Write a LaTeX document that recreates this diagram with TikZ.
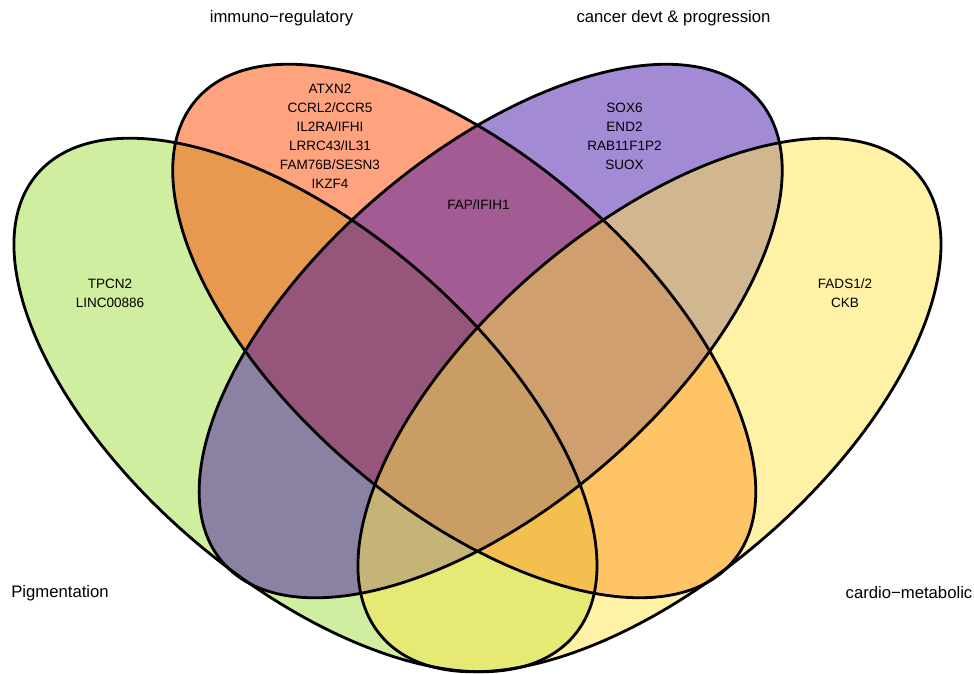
\documentclass[tikz,border=0pt]{standalone}
\usepackage{fontspec}
\setmainfont{Liberation Sans}
\usetikzlibrary{positioning}
\definecolor{pigment}{HTML}{A1DD3F}
\definecolor{immuno}{HTML}{FF4700}
\definecolor{cancer}{HTML}{4715A9}
\definecolor{cardio}{HTML}{FFE54D}

\begin{document}
\begin{tikzpicture}[
    x=0.2mm, y=0.2mm,
    setfill/.style={fill opacity=0.5},
    setline/.style={draw=black, line width=1.6pt},
    genes/.style={align=center, font=\fontsize{7.7}{10.8}\selectfont},
    catlabel/.style={font=\fontsize{9.5}{11.5}\selectfont},
  ]
  \useasboundingbox (0,0) rectangle (974,674);

  % ellipse centres
  \coordinate (cA) at (305.5,269);
  \coordinate (cB) at (464.3,343);
  \coordinate (cC) at (490.7,343);
  \coordinate (cD) at (649.5,269);

  % fills first
  \fill[pigment, setfill, rotate around={-40.8:(cA)}] (cA) ellipse (354 and 175.5);
  \fill[immuno,  setfill, rotate around={-40.8:(cB)}] (cB) ellipse (354 and 175.5);
  \fill[cancer,  setfill, rotate around={40.8:(cC)}]  (cC) ellipse (354 and 175.5);
  \fill[cardio,  setfill, rotate around={40.8:(cD)}]  (cD) ellipse (354 and 175.5);

  % outlines on top
  \draw[setline, rotate around={-40.8:(cA)}] (cA) ellipse (354 and 175.5);
  \draw[setline, rotate around={-40.8:(cB)}] (cB) ellipse (354 and 175.5);
  \draw[setline, rotate around={40.8:(cC)}]  (cC) ellipse (354 and 175.5);
  \draw[setline, rotate around={40.8:(cD)}]  (cD) ellipse (354 and 175.5);

  % category names
  \node[catlabel] (immunoLab)  at (281.5,656) {immuno−regulatory};
  \node[catlabel] (cancerLab)  at (673.5,656) {cancer devt \& progression};
  \node[catlabel] (pigmentLab) at (60,81)     {Pigmentation};
  \node[catlabel] (cardioLab)  at (909,81)    {cardio−metabolic};

  % genes in each region
  \node[genes] (immunoGenes)  at (330,537.5) {ATXN2\\CCRL2/CCR5\\IL2RA/IFHI\\LRRC43/IL31\\FAM76B/SESN3\\IKZF4};
  \node[genes] (cancerGenes)  at (624.5,538) {SOX6\\END2\\RAB11F1P2\\SUOX};
  \node[genes] (sharedGenes)  at (478.5,469) {FAP/IFIH1};
  \node[genes] (pigmentGenes) at (110,380.5) {TPCN2\\LINC00886};
  \node[genes] (cardioGenes)  at (845,380.5) {FADS1/2\\CKB};
\end{tikzpicture}
\end{document}
